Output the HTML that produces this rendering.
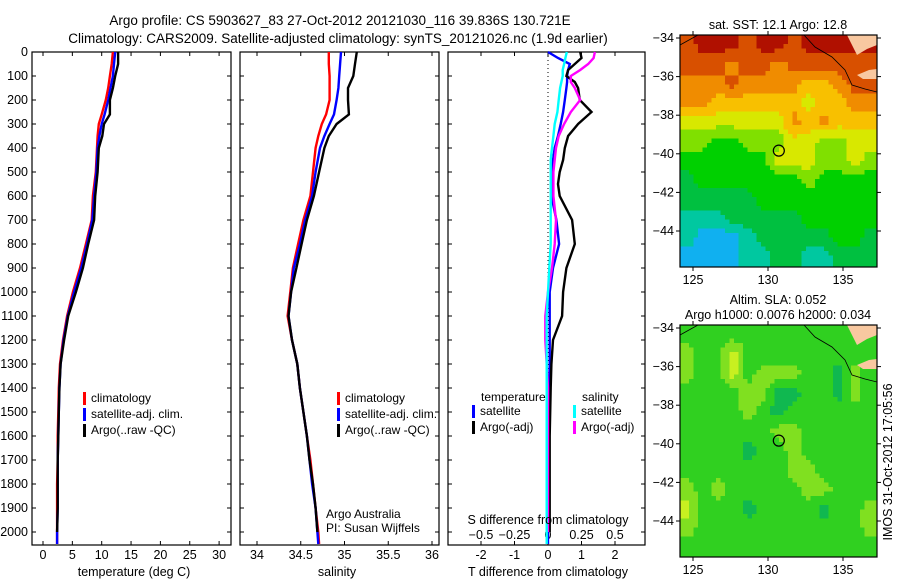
<!DOCTYPE html>
<html><head><meta charset="utf-8">
<style>
html,body{margin:0;padding:0;background:#fff;}
svg{display:block;font-family:"Liberation Sans",sans-serif;}
text{fill:#000;}
</style></head>
<body>
<svg id="c" width="900" height="580" viewBox="0 0 900 580">
<text x="340" y="25" font-size="13.5" text-anchor="middle">Argo profile: CS 5903627_83 27-Oct-2012 20121030_116 39.836S 130.721E</text>
<text x="338" y="43" font-size="13.5" text-anchor="middle">Climatology: CARS2009. Satellite-adjusted climatology: synTS_20121026.nc (1.9d earlier)</text>
</svg>
<script>
const depths=[0,50,100,150,200,260,300,350,400,500,600,700,800,900,1000,1100,1200,1300,1400,1500,1600,1700,1800,1900,2000,2050];
const tClim=[11.9,11.7,11.4,11.1,10.7,10.0,9.5,9.3,9.2,9.0,8.5,8.3,7.3,6.3,5.1,4.1,3.4,2.9,2.7,2.6,2.5,2.5,2.4,2.4,2.4,2.4];
const tSat=[12.3,12.1,11.9,11.5,11.1,10.5,10.0,9.6,9.3,9.1,8.7,8.4,7.5,6.5,5.3,4.2,3.5,3.0,2.8,2.7,2.6,2.5,2.5,2.5,2.4,2.4];
const tArgo=[12.8,12.8,12.3,11.9,11.4,11.4,10.4,10.1,9.5,9.3,8.9,8.7,7.7,6.8,5.6,4.3,3.6,3.0,2.8,2.7,2.6,2.5,2.5,2.5,2.4,null];
const sClim=[34.82,34.82,34.83,34.83,34.83,34.79,34.74,34.70,34.67,34.64,34.61,34.53,34.47,34.41,34.38,34.35,34.40,34.46,34.49,34.53,34.57,34.61,34.64,34.67,34.70,34.71];
const sSat=[34.96,34.95,34.94,34.93,34.91,34.88,34.83,34.77,34.72,34.67,34.63,34.55,34.49,34.42,34.39,34.36,34.40,34.46,34.49,34.53,34.57,34.60,34.63,34.67,34.69,34.70];
const sArgo=[35.14,35.12,35.10,35.04,35.04,35.05,34.91,34.82,34.77,34.71,34.65,34.57,34.51,34.45,34.39,34.36,34.40,34.46,34.49,34.53,34.57,34.60,34.64,34.67,34.69,null];
const diffDepths=[0,25,50,75,100,125,150,200,250,300,350,400,450,500,550,600,700,800,900,1000,1100,1200,1300,1400,1600,1800,2000,2050];
const tSatDiff=[0,0.3,0.65,0.6,0.57,0.57,0.55,0.5,0.45,0.38,0.3,0.2,0.15,0.12,0.1,0.1,0.25,0.33,0.15,0.05,0.05,0.05,0.05,0.05,0.03,0,0,0];
const tArgoDiff=[0.96,1.0,0.8,0.6,0.55,0.8,0.9,0.95,1.3,0.9,0.6,0.5,0.45,0.35,0.3,0.35,0.72,0.8,0.55,0.45,0.42,0.15,0.1,0.08,0.05,0.05,0.05,null];
const sSatDiff=[0.14,0.13,0.12,0.11,0.11,0.10,0.09,0.08,0.07,0.05,0.04,0.03,0.02,0.02,0.02,0.02,0.02,0.02,0.01,0,-0.01,-0.01,-0.01,-0.01,-0.01,-0.01,-0.01,-0.01];
const sArgoDiff=[0.35,0.34,0.3,0.24,0.17,0.17,0.2,0.24,0.17,0.12,0.08,0.06,0.05,0.04,0.04,0.04,0.06,0.05,0.03,0,-0.02,-0.02,-0.01,0,0,0,0,null];
const depthTicks=[0,100,200,300,400,500,600,700,800,900,1000,1100,1200,1300,1400,1500,1600,1700,1800,1900,2000];
const tTicks=[0,5,10,15,20,25,30];
const sTicks=[34,34.5,35,35.5,36];
const tdTicks=[-2,-1,0,1,2];
const sdTicks=[-0.5,-0.25,0,0.25,0.5];
const sstGrid=[
[1,0,0,0,1,0,0,1,0,0,0,0,0],
[1,1,1,2,1,1,2,1,1,1,1,1,1],
[2,2,2,1,2,2,2,2,3,3,2,1,1],
[2,2,3,3,3,3,3,3,4,3,3,2,2],
[4,4,4,4,4,4,4,2,3,2,3,3,3],
[5,5,6,6,5,5,5,4,4,5,5,4,4],
[6,6,6,6,6,6,4,4,4,5,5,4,5],
[7,6,6,6,6,6,6,6,5,6,6,6,6],
[7,7,7,7,7,6,6,6,6,6,6,6,6],
[8,8,8,7,7,7,7,7,6,6,6,6,6],
[8,9,9,9,8,7,7,7,7,7,6,6,7],
[9,9,9,9,8,8,7,7,8,8,7,7,7]];
const slaGrid=[
[1,1,1,1,1,1,1,1,1,1,1,1,1],
[2,1,1,3,1,1,1,1,1,1,1,1,1],
[2,1,1,3,1,2,2,2,1,1,0,2,1],
[1,1,1,1,2,2,0,0,1,1,0,2,1],
[1,1,1,1,2,1,0,1,1,1,1,1,1],
[1,1,1,1,1,1,2,2,1,1,1,1,1],
[1,1,1,1,0,1,1,2,1,1,1,1,1],
[1,1,1,1,1,1,1,2,2,1,1,1,1],
[2,1,2,1,1,1,1,1,2,2,1,1,1],
[3,1,1,1,0,1,1,1,1,0,1,1,2],
[2,1,1,1,1,1,1,1,1,1,1,1,2],
[1,1,1,1,1,1,1,1,1,1,1,1,1]];
const sstColors=['#b01000','#d85000','#f08c00','#f8c000','#d8e800','#80e000','#00d000','#00c040','#00c8a0','#10b0f0'];
const slaColors=['#10b850','#30d020','#80e020','#c8f020'];
const lonTicks=[125,130,135];
const latTicks=[-34,-36,-38,-40,-42,-44];
const argoLon=130.721, argoLat=-39.836;

const NS='http://www.w3.org/2000/svg';
const svg=document.getElementById('c');
function el(tag,attrs,parent){const e=document.createElementNS(NS,tag);for(const k in attrs)e.setAttribute(k,attrs[k]);(parent||svg).appendChild(e);return e;}
function txt(x,y,s,size,anchor,parent){const t=el('text',{x:x,y:y,'font-size':size||12,'text-anchor':anchor||'middle'},parent);t.textContent=s;return t;}

const top0=52, bot0=545;
const yD=d=>top0+d*0.24;

function panel(x0,x1,name){
  const g=el('g',{});
  
  
  el('rect',{x:x0,y:top0,width:x1-x0,height:bot0-top0,fill:'#fff',stroke:'#000','stroke-width':1.2},g);
  depthTicks.forEach(d=>{el('line',{x1:x0,x2:x0+4,y1:yD(d),y2:yD(d),stroke:'#000'},g);el('line',{x1:x1-4,x2:x1,y1:yD(d),y2:yD(d),stroke:'#000'},g);});
  return g;
}
function series(g,xs,ds,xf,color,name){
  let pts=[];
  for(let i=0;i<ds.length;i++){if(xs[i]==null)continue;pts.push(xf(xs[i]).toFixed(1)+','+yD(ds[i]).toFixed(1));}
  const p=el('polyline',{points:pts.join(' '),fill:'none',stroke:color,'stroke-width':2.4},g);
  
  
}
function xticks(g,ticks,xf,labelY){
  ticks.forEach(v=>{const x=xf(v);el('line',{x1:x,x2:x,y1:bot0,y2:bot0-4,stroke:'#000'},g);el('line',{x1:x,x2:x,y1:top0,y2:top0+4,stroke:'#000'},g);
    const t=txt(x,labelY,String(v),12.5,'middle',g);});
}
function legend(g,x,y,items){
  items.forEach((it,i)=>{el('rect',{x:x,y:y+i*16-10,width:3,height:13,fill:it[1]},g);const t=txt(x+8,y+i*16,it[0],12,'start',g);});
}

depthTicks.forEach(d=>{const t=txt(28,yD(d)+4,String(d),12.5,'end');});

const xT=v=>43+v*5.87;
const g1=panel(32,231,'temperature-panel');
xticks(g1,tTicks,xT,559);
series(g1,tClim,depths,xT,'#ff0000','temp-climatology-line');
series(g1,tSat,depths,xT,'#0000ff','temp-satellite-line');
series(g1,tArgo,depths,xT,'#000000','temp-argo-line');
legend(g1,83,402,[['climatology','#f00'],['satellite-adj. clim.','#00f'],['Argo(..raw -QC)','#000']]);
let t=txt(134,576,'temperature (deg C)',12.5);

const xS=v=>257+(v-34)*87.5;
const g2=panel(240,439,'salinity-panel');
xticks(g2,sTicks,xS,559);
series(g2,sClim,depths,xS,'#ff0000','sal-climatology-line');
series(g2,sSat,depths,xS,'#0000ff','sal-satellite-line');
series(g2,sArgo,depths,xS,'#000000','sal-argo-line');
legend(g2,337,402,[['climatology','#f00'],['satellite-adj. clim.','#00f'],['Argo(..raw -QC)','#000']]);
t=txt(326,518,'Argo Australia',12,'start',g2);
t=txt(326,532,'PI: Susan Wijffels',12,'start',g2);
t=txt(337,576,'salinity',12.5);

const xTD=v=>548+v*33.5;
const xSD=v=>548+v*134;
const g3=panel(448,645,'difference-panel');
el('line',{x1:548,x2:548,y1:top0,y2:bot0,stroke:'#000','stroke-dasharray':'1,3'},g3);
xticks(g3,tdTicks,xTD,559);
sdTicks.forEach(v=>{const x=xSD(v);el('line',{x1:x,x2:x,y1:bot0,y2:bot0-4,stroke:'#000'},g3);const tt=txt(x,539,String(v).replace('-','\u2212'),12.5,'middle',g3);});
series(g3,tSatDiff,diffDepths,xTD,'#0000ff','temp-satellite-diff-line');
series(g3,tArgoDiff,diffDepths,xTD,'#000000','temp-argo-diff-line');
series(g3,sArgoDiff,diffDepths,xSD,'#ff00ff','sal-argo-diff-line');
series(g3,sSatDiff,diffDepths,xSD,'#00ffff','sal-satellite-diff-line');
t=txt(481,401,'temperature',12,'start',g3);
legend(g3,472,415,[['satellite','#00f'],['Argo(-adj)','#000']]);
t=txt(582,401,'salinity',12,'start',g3);
legend(g3,573,415,[['satellite','#0ff'],['Argo(-adj)','#f0f']]);
t=txt(548,524,'S difference from climatology',12.5,'middle',g3);
t=txt(548,576,'T difference from climatology',12.5);

// Maps
const mx0=680,mx1=877;
const lonX=l=>693+(l-125)*15;
function hex2rgb(h){return [parseInt(h.substr(1,2),16),parseInt(h.substr(3,2),16),parseInt(h.substr(5,2),16)];}
function sample(grid,r,c){r=Math.max(0,Math.min(grid.length-1,r));c=Math.max(0,Math.min(grid[0].length-1,c));
  const r0=Math.floor(r),c0=Math.floor(c),r1=Math.min(r0+1,grid.length-1),c1=Math.min(c0+1,grid[0].length-1),fr=r-r0,fc=c-c0;
  return grid[r0][c0]*(1-fr)*(1-fc)+grid[r0][c1]*(1-fr)*fc+grid[r1][c0]*fr*(1-fc)+grid[r1][c1]*fr*fc;}
function colorAt(colors,v){const i=Math.max(0,Math.min(colors.length-1,Math.round(v)));return colors[i];}
function map(y0,y1,grid,colors,name,title){
  const g=el('g',{});
  
  
  const latY=la=>y0+3+(-34-la)*19.3;
  const W=mx1-mx0,H=y1-y0,step=4.5;
  const nc=Math.ceil(W/step),nr=Math.ceil(H/step);
  for(let i=0;i<nr;i++)for(let j=0;j<nc;j++){
    const r=(i+0.5)*step/H*12-0.5,c=(j+0.5)*step/W*13-0.5;
    const v=sample(grid,r,c);
    el('rect',{x:mx0+j*step,y:y0+i*step,width:Math.min(step+0.4,W-j*step),height:Math.min(step+0.4,H-i*step),fill:colorAt(colors,v)},g);
  }
  el('path',{d:`M${mx1-30},${y0} L${mx1-24},${y0+12} L${mx1-20},${y0+20} L${mx1-10},${y0+14} L${mx1},${y0+10} L${mx1},${y0} Z`,fill:'#f8c8a0'},g);
  el('path',{d:`M${mx1-20},${y0+40} L${mx1-8},${y0+35} L${mx1},${y0+34} L${mx1},${y0+44} L${mx1-14},${y0+44} Z`,fill:'#f8c8a0'},g);
  el('polyline',{points:`${mx0},${y0+10} ${mx0+18},${y0}`,fill:'none',stroke:'#000','stroke-width':0.8},g);
  el('polyline',{points:`${mx0+124},${y0} ${mx0+135},${y0+12} ${mx0+152},${y0+22} ${mx0+165},${y0+35} ${mx0+172},${y0+50} ${mx0+185},${y0+54} ${mx1},${y0+57}`,fill:'none',stroke:'#000','stroke-width':0.8},g);
  el('rect',{x:mx0,y:y0,width:W,height:H,fill:'none',stroke:'#000','stroke-width':1.2},g);
  lonTicks.forEach(l=>{const x=lonX(l);el('line',{x1:x,x2:x,y1:y1,y2:y1+4,stroke:'#000'},g);el('line',{x1:x,x2:x,y1:y0,y2:y0-4,stroke:'#000'},g);const tt=txt(x,y1+17,String(l),12.5,'middle',g);});
  latTicks.forEach(la=>{const y=latY(la);el('line',{x1:mx0-4,x2:mx0,y1:y,y2:y,stroke:'#000'},g);el('line',{x1:mx1,x2:mx1+4,y1:y,y2:y,stroke:'#000'},g);const tt=txt(mx0-6,y+4,String(la).replace('-','\u2212'),12.5,'end',g);});
  const cc=el('circle',{cx:lonX(argoLon),cy:latY(argoLat),r:5.5,fill:'none',stroke:'#000','stroke-width':1.2},g);
  
  
  title.forEach((s,i)=>{const tt=txt(778,y0-(title.length-1-i)*15-6,s,12.5,'middle',g);});
}
map(35,267,sstGrid,sstColors,'sst-map',['sat. SST: 12.1 Argo: 12.8']);
map(325,557,slaGrid,slaColors,'sla-map',['Altim. SLA: 0.052','Argo h1000: 0.0076 h2000: 0.034']);
t=txt(0,0,'IMOS 31-Oct-2012 17:05:56',12.5,'middle');
t.setAttribute('transform','translate(892,462) rotate(-90)');


</script>
</body></html>
